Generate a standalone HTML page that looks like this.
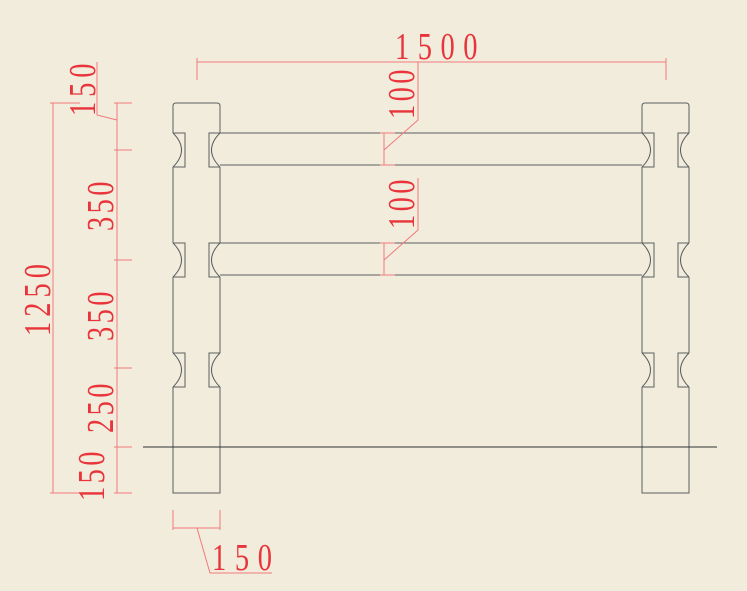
<!DOCTYPE html>
<html><head><meta charset="utf-8"><style>
html,body{margin:0;padding:0;background:#f2ecdd;}
svg{display:block}
text{font-family:"Liberation Serif",serif;fill:#e8343a;font-size:38px}
</style></head><body>
<svg width="747" height="591" viewBox="0 0 747 591" xmlns="http://www.w3.org/2000/svg">
<rect width="747" height="591" fill="#f2ecdd"/>
<g fill="none" stroke="#5a5f60" stroke-width="1">
<path d="M173,133 L173,106 Q173,103 176,103 L217,103 Q220,103 220,106 L220,133"/>
<path d="M173,167 L173,243 M173,277 L173,353 M173,387 L173,493 L220,493 L220,387 M220,353 L220,277 M220,243 L220,167"/>
<g id="nl">
<path d="M173,133 Q190,150 173,167"/><path d="M173,133 L185,133 L185,167 L173,167"/>
<path d="M220,133 Q203,150 220,167"/><path d="M220,133 L209,133 L209,167 L220,167"/>
</g>
<use href="#nl" y="110"/><use href="#nl" y="220"/>
<path d="M642,133 L642,106 Q642,103 645,103 L686,103 Q689,103 689,106 L689,133"/>
<path d="M642,167 L642,243 M642,277 L642,353 M642,387 L642,493 L689,493 L689,387 M689,353 L689,277 M689,243 L689,167"/>
<use href="#nl" x="469"/><use href="#nl" x="469" y="110"/><use href="#nl" x="469" y="220"/>
<path d="M220,133 L642,133 M220,165 L642,165 M220,243 L642,243 M220,275 L642,275"/>
</g>
<line x1="143" y1="447" x2="717" y2="447" stroke="#2e3333" stroke-width="1"/>
<g fill="none" stroke="#f07a7a" stroke-width="1">
<path d="M197,62 L666,62 M197,58 L197,80 M666,58 L666,80"/>
<path d="M53,103 L53,493 M50,103 L80,103 M50,493 L80,493"/>
<path d="M117,103 L117,493 M114,103 L132,103 M114,150 L132,150 M114,260 L132,260 M114,368 L132,368 M114,447 L132,447 M114,493 L132,493"/>
<path d="M117,120 L97,115 L97,62"/>
<path d="M384,133 L384,165 M380,133 L395,133 M380,165 L395,165 M384,150 L418,120 L418,62"/>
<path d="M384,243 L384,275 M380,243 L395,243 M380,275 L395,275 M384,260 L418,230 L418,178"/>
<path d="M173,528 L220,528 M173,510 L173,530 M220,510 L220,530 M197,528 L210,573 L272,573"/>
</g>
<text transform="translate(395,59) scale(0.75,1)" textLength="110" lengthAdjust="spacing">1500</text>
<text transform="translate(212,570) scale(0.75,1)" textLength="80" lengthAdjust="spacing">150</text>
<text transform="translate(95,116) rotate(-90) scale(0.75,1)" textLength="70" lengthAdjust="spacing">150</text>
<text transform="translate(50,336) rotate(-90) scale(0.75,1)" textLength="96" lengthAdjust="spacing">1250</text>
<text transform="translate(113,231) rotate(-90) scale(0.75,1)" textLength="66" lengthAdjust="spacing">350</text>
<text transform="translate(113,341) rotate(-90) scale(0.75,1)" textLength="66" lengthAdjust="spacing">350</text>
<text transform="translate(113,433) rotate(-90) scale(0.75,1)" textLength="66" lengthAdjust="spacing">250</text>
<text transform="translate(104,501) rotate(-90) scale(0.75,1)" textLength="66" lengthAdjust="spacing">150</text>
<text transform="translate(414,119) rotate(-90) scale(0.75,1)" textLength="66" lengthAdjust="spacing">100</text>
<text transform="translate(414,229) rotate(-90) scale(0.75,1)" textLength="66" lengthAdjust="spacing">100</text>
</svg>
</body></html>
